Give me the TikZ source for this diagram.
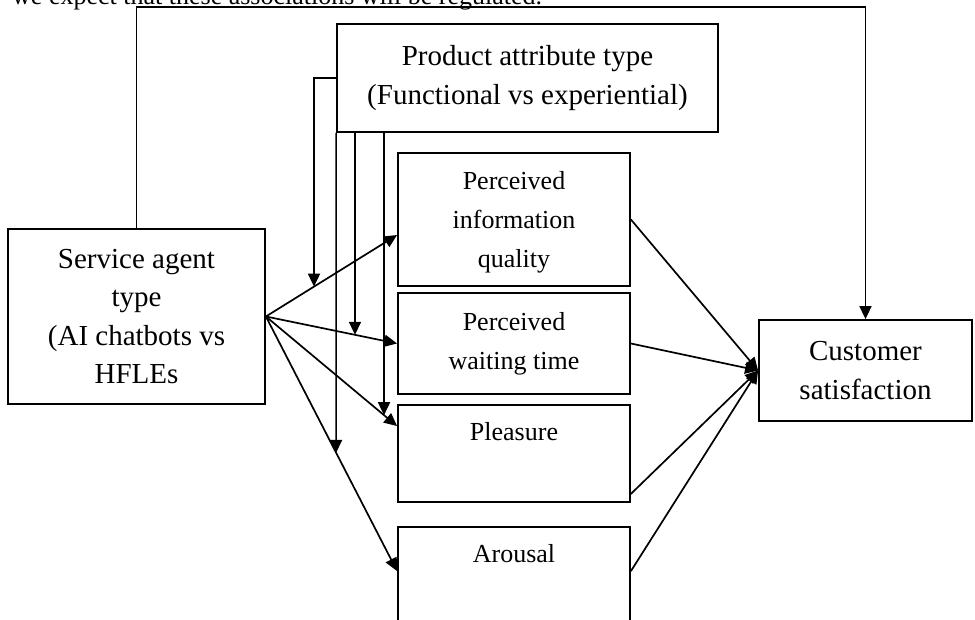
\documentclass[tikz,border=0pt]{standalone}
\usepackage{fontspec}
\setmainfont{Liberation Serif}
\usetikzlibrary{arrows.meta}

\begin{document}
\begin{tikzpicture}[x=1pt,y=-1pt,
  box/.style={draw,line width=1.8pt,align=center,inner sep=0pt},
  big/.style={font=\fontsize{29}{38.5}\selectfont},
  med/.style={font=\fontsize{26}{39}\selectfont},
  arr/.style={line width=1.7pt,-{Triangle[length=13pt,width=12pt]}}]
\clip (0,0) rectangle (975,620);
% cut-off sentence above the figure
\node[anchor=base west,med,inner sep=0pt] (note) at (12,5) {we expect that these associations will be regulated.};
% boxes
\node[box,big,minimum width=257pt,minimum height=175pt] (sat) at (136.5,316.5) {Service agent\\type\\(AI chatbots vs\\HFLEs};
\node[box,big,minimum width=381pt,minimum height=108pt] (prd) at (527.5,78) {Product attribute type\\(Functional vs experiential)};
\node[box,med,minimum width=232pt,minimum height=133pt] (piq) at (514,219.5) {\rule{0pt}{24pt}Perceived\\information\\quality};
\node[box,med,minimum width=232pt,minimum height=101pt] (pwt) at (514,343.5) {Perceived\\waiting time};
\node[box,minimum width=232pt,minimum height=97pt,
  label={[med,anchor=north,inner sep=0pt,yshift=-18pt]north:Pleasure}] (pls) at (514,453.5) {};
\node[box,minimum width=232pt,minimum height=140pt,
  label={[med,anchor=north,inner sep=0pt,yshift=-18pt]north:Arousal}] (aro) at (514,597) {};
\node[box,big,minimum width=213pt,minimum height=101pt] (cs) at (865.5,370.5) {Customer\\satisfaction};
% end points
\coordinate (piqin) at ([yshift=-15.5pt]piq.west);
\coordinate (plsin) at ([yshift=-22pt]pls.north west);
\coordinate (aroin) at ([yshift=-45pt]aro.north west);
\coordinate (plsout) at ([yshift=9pt]pls.south east);
\coordinate (aroout) at ([yshift=-45pt]aro.north east);
\coordinate (top) at (0,7);
% service agent to mediators
\draw[arr] (sat.east) -- (piqin);
\draw[arr] (sat.east) -- (pwt.west);
\draw[arr] (sat.east) -- (plsin);
\draw[arr] (sat.east) -- (aroin);
% moderation by product attribute type
\coordinate (m1) at (intersection of sat.east--piqin and 314,0--314,1);
\coordinate (m2) at (intersection of sat.east--pwt.west and 355,0--355,1);
\coordinate (m3) at (intersection of sat.east--plsin and 384,0--384,1);
\coordinate (m4) at (intersection of sat.east--aroin and prd.south west--prd.north west);
\draw[arr] (prd.west) -| (m1);
\draw[arr] (prd.south -| m2) -- (m2);
\draw[arr] (prd.south -| m3) -- (m3);
\draw[arr] (prd.south west) -- (m4);
% mediators to customer satisfaction
\draw[arr] (piq.east) -- (cs.west);
\draw[arr] (pwt.east) -- (cs.west);
\draw[arr] (plsout) -- (cs.west);
\draw[arr] (aroout) -- (cs.west);
% direct effect
\draw[arr] (sat.north) -- (sat.north |- top) -| (cs.north);
\end{tikzpicture}
\end{document}
